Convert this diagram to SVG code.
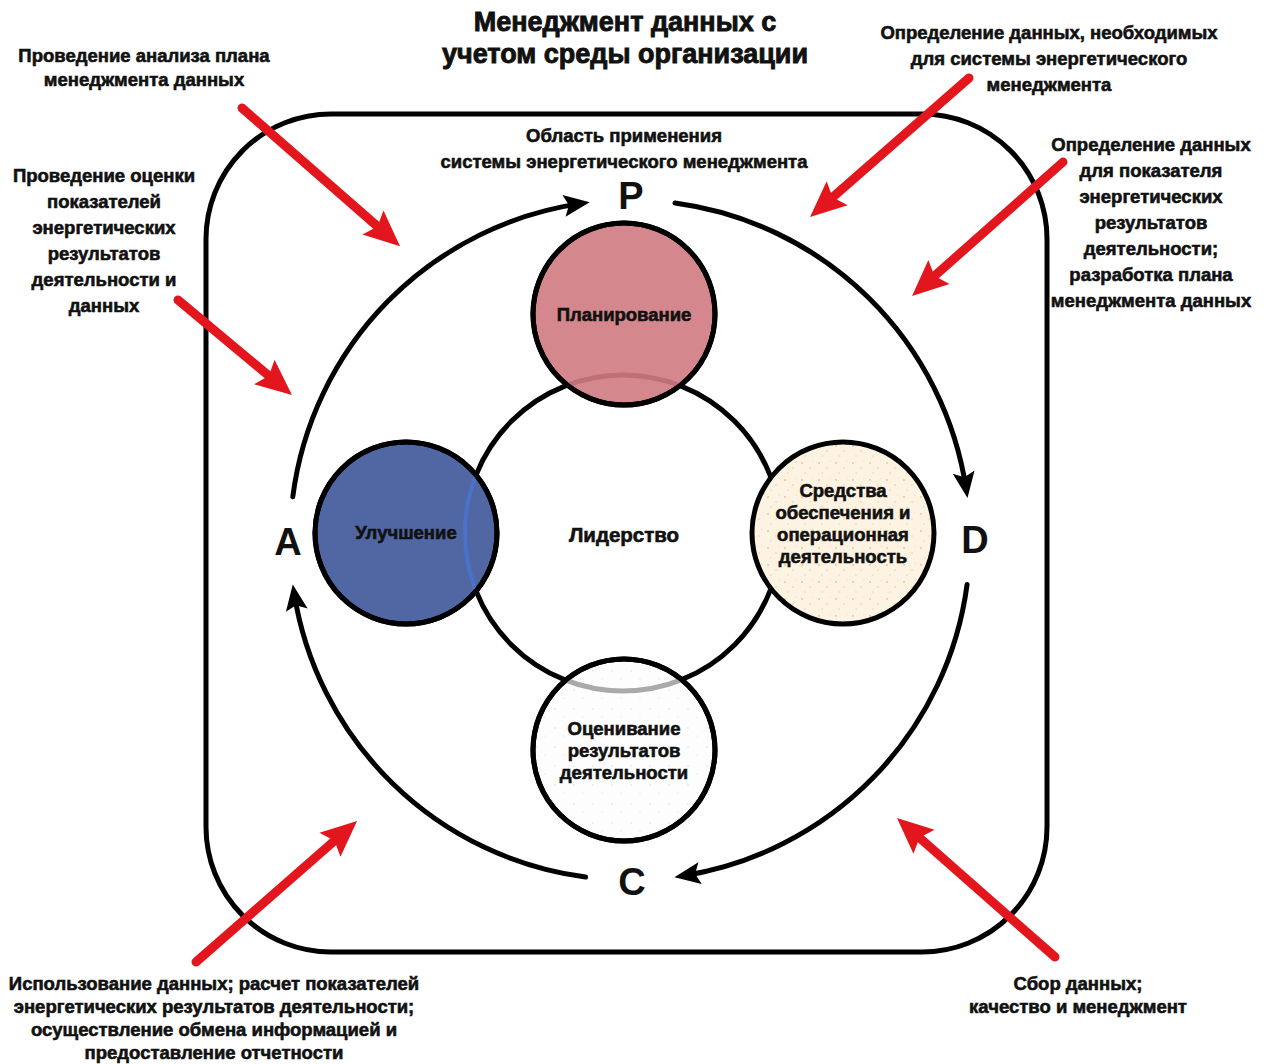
<svg xmlns="http://www.w3.org/2000/svg" width="1264" height="1064" viewBox="0 0 1264 1064">
<defs>
<style>
text{font-family:"Liberation Sans",Arial,"Noto Sans",sans-serif;font-weight:bold;fill:#111;text-anchor:middle;stroke:#111;stroke-width:0.6;}
.ann{font-size:18.5px;}
.title{font-size:27px;stroke-width:0.9;}
.letter{font-size:38px;stroke-width:0;}
.cl{font-size:18.5px;}
.blk{fill:none;stroke:#000;stroke-width:5;stroke-linecap:round;}
.red{fill:none;stroke:#e3161e;stroke-width:9;stroke-linecap:round;}
.node{stroke:#000;stroke-width:5;}
</style>
<marker id="bh" viewBox="-20 -12 30 24" refX="0" refY="0" markerWidth="30" markerHeight="24" markerUnits="userSpaceOnUse" orient="auto">
<path d="M8,0 L-18,-11 L-13,0 L-18,11 Z" fill="#000"/>
</marker>
<marker id="rh" viewBox="-20 -18 42 36" refX="0" refY="0" markerWidth="42" markerHeight="36" markerUnits="userSpaceOnUse" orient="auto">
<path d="M20,0 L-16,-16 L-10,0 L-16,16 Z" fill="#e3161e"/>
</marker>
<clipPath id="cP"><circle cx="624" cy="314" r="90"/></clipPath>
<clipPath id="cU"><circle cx="406" cy="533" r="90"/></clipPath>
<clipPath id="cO"><circle cx="624" cy="750" r="90"/></clipPath>
<pattern id="spk" width="17" height="17" patternUnits="userSpaceOnUse">
<rect width="17" height="17" fill="#fdf3e3"/>
<circle cx="3" cy="4" r="0.9" fill="#e9a860" opacity="0.7"/>
<circle cx="11" cy="9" r="0.8" fill="#e9a860" opacity="0.6"/>
<circle cx="6" cy="14" r="0.7" fill="#e9a860" opacity="0.6"/>
<circle cx="14" cy="2" r="0.6" fill="#e9a860" opacity="0.5"/>
</pattern>
<pattern id="gsp" width="19" height="19" patternUnits="userSpaceOnUse">
<rect width="19" height="19" fill="#fdfdfd"/>
<circle cx="4" cy="6" r="0.7" fill="#bbb" opacity="0.6"/>
<circle cx="13" cy="14" r="0.6" fill="#bbb" opacity="0.5"/>
</pattern>
</defs>
<rect width="1264" height="1064" fill="#fff"/>

<g id="frame">
<rect x="206" y="114" width="841" height="838" rx="125" ry="125" class="blk"/>
</g>

<g id="connectors">
<path class="blk" d="M292.8,496.8 A340,340 0 0 1 581.8,203.4" marker-end="url(#bh)"/>
<path class="blk" d="M675,203 A340,340 0 0 1 966.3,490" marker-end="url(#bh)"/>
<path class="blk" d="M967.1,584.4 A340,340 0 0 1 682.3,876" marker-end="url(#bh)"/>
<path class="blk" d="M585.6,877.1 A340,340 0 0 1 294,592.3" marker-end="url(#bh)"/>
<line class="red" x1="242" y1="108" x2="385" y2="233" marker-end="url(#rh)"/>
<line class="red" x1="178" y1="300" x2="276.6" y2="382.2" marker-end="url(#rh)"/>
<line class="red" x1="969" y1="78" x2="825.1" y2="203.8" marker-end="url(#rh)"/>
<line class="red" x1="1063" y1="162" x2="927" y2="282.7" marker-end="url(#rh)"/>
<line class="red" x1="196" y1="962" x2="342" y2="834.2" marker-end="url(#rh)"/>
<line class="red" x1="1055" y1="957" x2="912" y2="831.2" marker-end="url(#rh)"/>
</g>

<g id="leadership">
<circle cx="623" cy="533" r="158" fill="#fff" class="node"/>
<text class="cl" x="624" y="542" style="font-size:20.5px">Лидерство</text>
</g>

<g id="planning">
<circle cx="624" cy="314" r="91" fill="#d4888d" class="node"/>
<circle cx="623" cy="533" r="158" fill="none" stroke="#bf6f77" stroke-width="5" clip-path="url(#cP)"/>
<circle cx="624" cy="314" r="91" fill="none" class="node"/>
<text class="cl" x="624" y="321">Планирование</text>
</g>

<g id="improvement">
<circle cx="406" cy="533" r="91" fill="#5067a3" class="node"/>
<circle cx="623" cy="533" r="158" fill="none" stroke="#4a72c8" stroke-width="4" clip-path="url(#cU)"/>
<circle cx="406" cy="533" r="91" fill="none" class="node"/>
<text class="cl" x="406" y="539">Улучшение</text>
</g>

<g id="support">
<circle cx="843" cy="533" r="91" fill="url(#spk)" class="node"/>
<text class="cl" x="843" y="497">Средства</text>
<text class="cl" x="843" y="519">обеспечения и</text>
<text class="cl" x="843" y="541">операционная</text>
<text class="cl" x="843" y="563">деятельность</text>
</g>

<g id="evaluation">
<circle cx="624" cy="750" r="91" fill="url(#gsp)" class="node"/>
<circle cx="623" cy="533" r="158" fill="none" stroke="#aaa" stroke-width="5" clip-path="url(#cO)"/>
<circle cx="624" cy="750" r="91" fill="none" class="node"/>
<text class="cl" x="624" y="735">Оценивание</text>
<text class="cl" x="624" y="757">результатов</text>
<text class="cl" x="624" y="779">деятельности</text>
</g>

<g id="letters">
<text class="letter" x="631" y="209">P</text>
<text class="letter" x="975" y="553">D</text>
<text class="letter" x="288" y="555">A</text>
<text class="letter" x="632" y="895">C</text>
</g>

<g id="title">
<text class="title" x="625" y="31">Менеджмент данных с</text>
<text class="title" x="625" y="63">учетом среды организации</text>
</g>

<g id="scope">
<text class="ann" x="624" y="142">Область применения</text>
<text class="ann" x="624" y="168">системы энергетического менеджмента</text>
</g>

<g id="note-review">
<text class="ann" x="144" y="62">Проведение анализа плана</text>
<text class="ann" x="144" y="86">менеджмента данных</text>
</g>

<g id="note-assess">
<text class="ann" x="104" y="182">Проведение оценки</text>
<text class="ann" x="104" y="208">показателей</text>
<text class="ann" x="104" y="234">энергетических</text>
<text class="ann" x="104" y="260">результатов</text>
<text class="ann" x="104" y="286">деятельности и</text>
<text class="ann" x="104" y="312">данных</text>
</g>

<g id="note-define">
<text class="ann" x="1049" y="39">Определение данных, необходимых</text>
<text class="ann" x="1049" y="65">для системы энергетического</text>
<text class="ann" x="1049" y="91">менеджмента</text>
</g>

<g id="note-plan">
<text class="ann" x="1151" y="151">Определение данных</text>
<text class="ann" x="1151" y="177">для показателя</text>
<text class="ann" x="1151" y="203">энергетических</text>
<text class="ann" x="1151" y="229">результатов</text>
<text class="ann" x="1151" y="255">деятельности;</text>
<text class="ann" x="1151" y="281">разработка плана</text>
<text class="ann" x="1151" y="307">менеджмента данных</text>
</g>

<g id="note-use">
<text class="ann" x="214" y="990">Использование данных; расчет показателей</text>
<text class="ann" x="214" y="1013">энергетических результатов деятельности;</text>
<text class="ann" x="214" y="1036">осуществление обмена информацией и</text>
<text class="ann" x="214" y="1059">предоставление отчетности</text>
</g>

<g id="note-collect">
<text class="ann" x="1078" y="990">Сбор данных;</text>
<text class="ann" x="1078" y="1013">качество и менеджмент</text>
</g>
</svg>
